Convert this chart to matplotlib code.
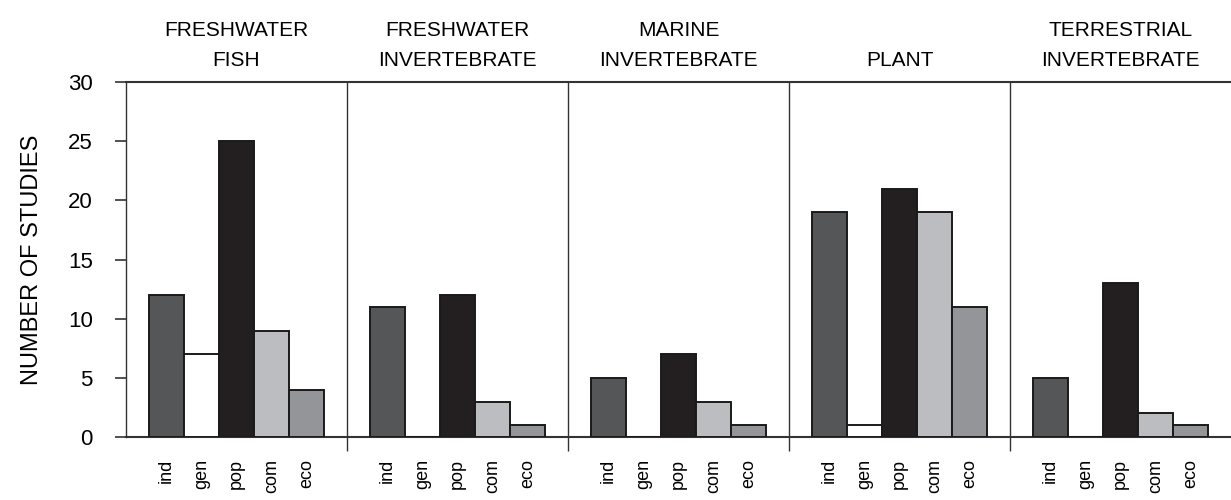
import numpy as np
import matplotlib
matplotlib.use("Agg")
import matplotlib.pyplot as plt

# study counts per taxon group
groups = ["FRESHWATER\nFISH", "FRESHWATER\nINVERTEBRATE", "MARINE\nINVERTEBRATE",
          "PLANT", "TERRESTRIAL\nINVERTEBRATE"]
levels = ["ind", "gen", "pop", "com", "eco"]
fw_fish = [12, 7, 25, 9, 4]
fw_invert = [11, 0, 12, 3, 1]
marine_invert = [5, 0, 7, 3, 1]
plant = [19, 1, 21, 19, 11]
terr_invert = [5, 0, 13, 2, 1]
yticks = [0, 5, 10, 15, 20, 25, 30]

colors = ["#555658", "#ffffff", "#231f20", "#bcbdc0", "#939598"]
LINE = "#333333"
PANEL_W = 6.31
GAP = (PANEL_W - len(levels)) / 2

plt.rcParams["font.family"] = ["Liberation Sans", "DejaVu Sans"]

fig = plt.figure(figsize=(12.31, 5.0), dpi=100)
ax = fig.add_axes([0.1024, 0.126, 0.8976, 0.71])

data = [fw_fish, fw_invert, marine_invert, plant, terr_invert]
centers, labels = [], []
for g, vals in enumerate(data):
    x0 = g * PANEL_W + GAP + 0.5
    xs = x0 + np.arange(len(levels))
    ax.bar(xs, vals, width=1.0, color=colors, edgecolor="#1a1a1a", linewidth=1.4, zorder=3)
    centers.extend(xs)
    labels.extend(levels)
    ax.text(g * PANEL_W + PANEL_W / 2, 31.0, groups[g], ha="center", va="bottom",
            fontsize=15, linespacing=1.75, clip_on=False)
    if g > 0:
        ax.axvline(g * PANEL_W, ymin=0, ymax=1, color=LINE, lw=1.0, zorder=1)

ax.set_xlim(0, PANEL_W * len(groups))
ax.set_ylim(0, 30)

# divider ticks hanging under the base line, category labels as minor ticks
ax.set_xticks([PANEL_W * g for g in range(1, len(groups))])
ax.set_xticklabels([])
ax.tick_params(axis="x", which="major", length=10, width=1.0, color=LINE, direction="out")
ax.set_xticks(centers, minor=True)
ax.set_xticklabels(labels, minor=True, rotation=90, fontsize=13)
ax.tick_params(axis="x", which="minor", length=0, pad=16)

ax.set_yticks(yticks)
ax.tick_params(axis="y", length=8, width=1.2, color=LINE, labelsize=16, pad=16)

for side in ["left", "bottom", "top"]:
    ax.spines[side].set_color(LINE)
    ax.spines[side].set_linewidth(1.5)
ax.spines["left"].set_linewidth(1.0)
ax.spines["right"].set_visible(False)

ax.set_ylabel("NUMBER OF STUDIES", fontsize=17, labelpad=18)

fig.savefig("out.png", dpi=100)
